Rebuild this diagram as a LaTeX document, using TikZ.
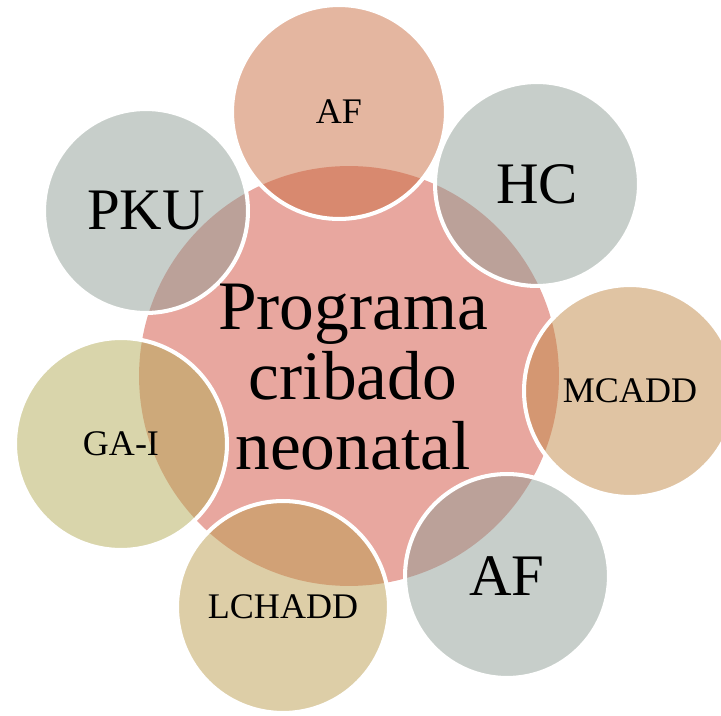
\documentclass[tikz,border=0pt]{standalone}
\usepackage{fontspec}
\setmainfont{Liberation Serif}
\usetikzlibrary{positioning}
\definecolor{centrerose}{RGB}{232,167,159}
\definecolor{afcol}{RGB}{201,109,65}
\definecolor{greycol}{RGB}{143,157,149}
\definecolor{mcaddcol}{RGB}{193,137,71}
\definecolor{lchaddcol}{RGB}{187,157,79}
\definecolor{gacol}{RGB}{179,171,87}

\begin{document}
\begin{tikzpicture}[x=0.02cm, y=-0.02cm]
	\tikzstyle{disease}=[circle,draw=white,line width=2.3pt,fill opacity=0.5,draw opacity=1,text opacity=1,inner sep=0pt,text=black]
	\tikzstyle{big}=[font=\fontsize{33.5}{35}\selectfont]
	\tikzstyle{small}=[font=\fontsize{20.5}{22}\selectfont]
	\useasboundingbox (0,0) rectangle (721,716);
	\node[circle,fill=centrerose,inner sep=0pt,minimum size=8.4cm] (prog) at (349,376) {};
	\node[disease,fill=afcol,minimum size=4.28cm,small]     (af1) at (339,112) {AF};
	\node[disease,fill=greycol,minimum size=4.08cm,big]     (hc) at (537,184) {HC};
	\node[disease,fill=mcaddcol,minimum size=4.24cm,small]  (mcadd) at (630,391) {MCADD};
	\node[disease,fill=greycol,minimum size=4.08cm,big]     (af2) at (507,576) {AF};
	\node[disease,fill=lchaddcol,minimum size=4.24cm,small] (lchadd) at (283,607) {LCHADD};
	\node[disease,fill=gacol,minimum size=4.24cm,small]     (gai) at (121,444) {GA-I};
	\node[disease,fill=greycol,minimum size=4.08cm,big]     (pku) at (146,211) {PKU};
	\node[align=center,font=\fontsize{39.5}{40}\selectfont] (title) at (353,377) {Programa\\cribado\\neonatal};
\end{tikzpicture}
\end{document}
